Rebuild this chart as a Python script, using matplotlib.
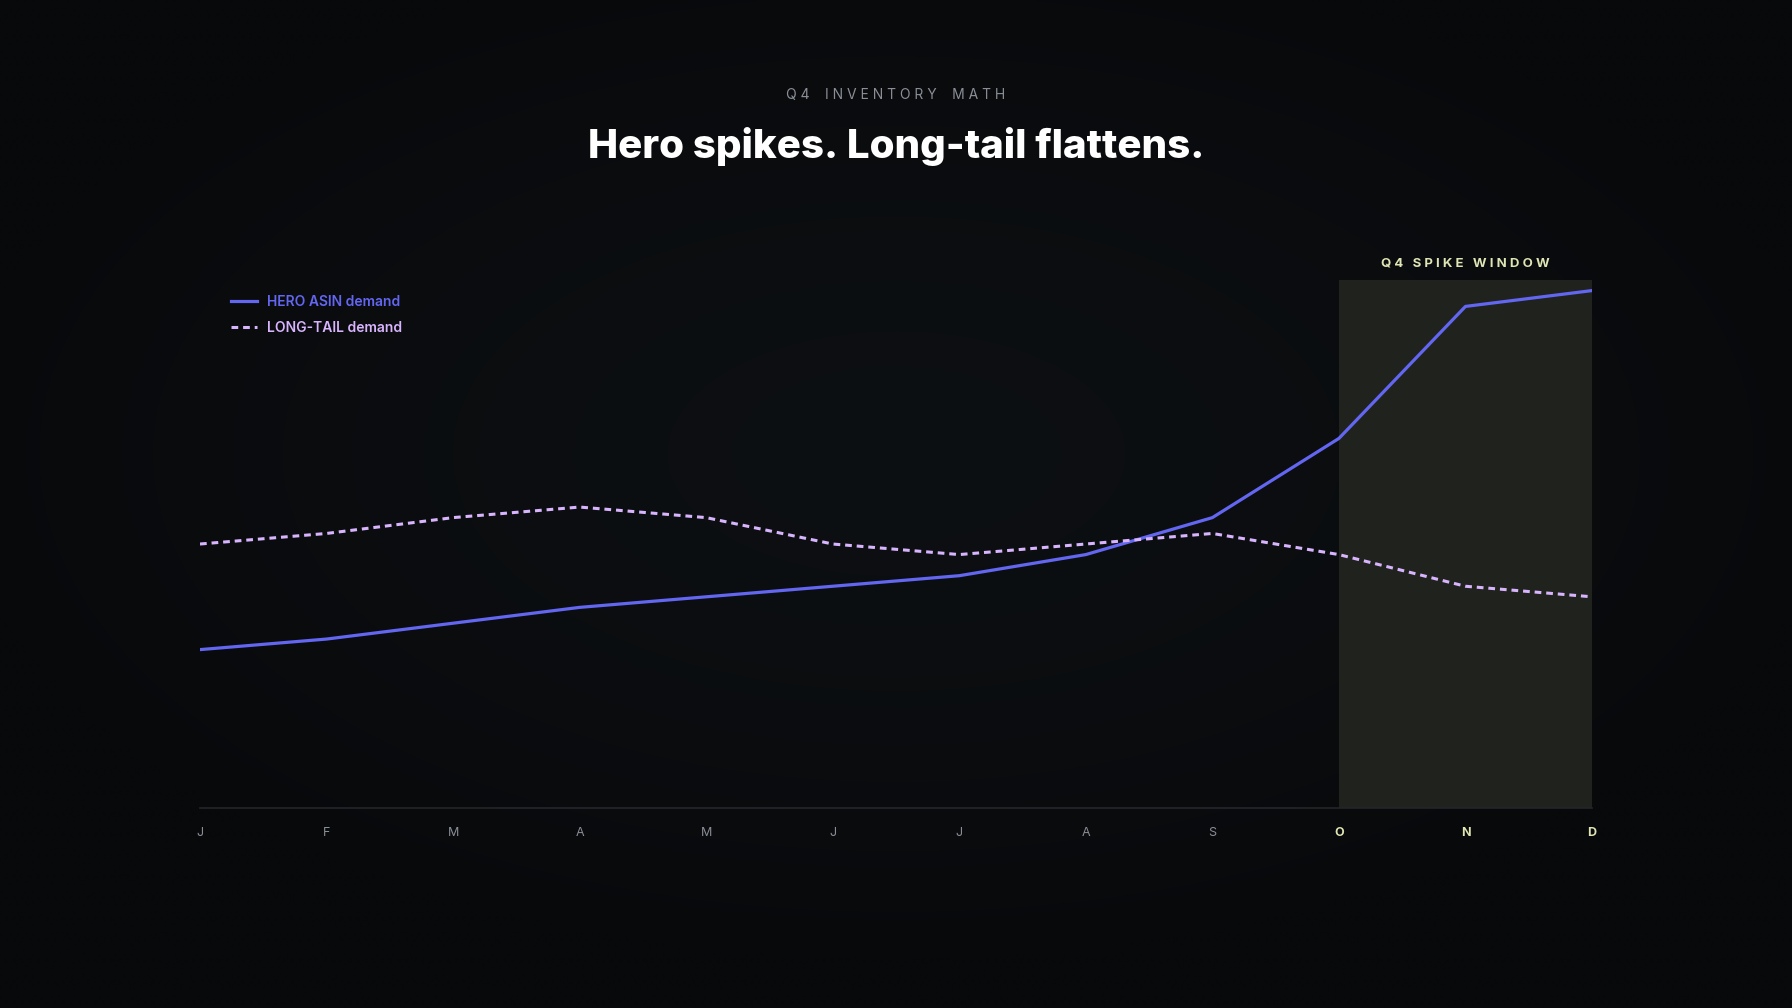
import numpy as np
import matplotlib.pyplot as plt

# Monthly demand index
months = ['J', 'F', 'M', 'A', 'M', 'J', 'J', 'A', 'S', 'O', 'N', 'D']
hero_demand = [30, 32, 35, 38, 40, 42, 44, 48, 55, 70, 95, 98]
tail_demand = [50, 52, 55, 57, 55, 50, 48, 50, 52, 48, 42, 40]
q4_start, q4_end = 9, 11

bg = '#0b0d10'
hero_col = '#6366f1'
tail_col = '#d8b4fe'
accent = '#dfe5b4'
muted = '#8a8e97'

plt.rcParams['font.family'] = ['Inter', 'DejaVu Sans']

fig = plt.figure(figsize=(17.92, 10.08), dpi=100, facecolor=bg)

# Subtle radial vignette behind everything.
bg_ax = fig.add_axes([0, 0, 1, 1], zorder=0)
yy, xx = np.mgrid[-1:1:300j, -1:1:520j]
r = np.sqrt((xx / 1.05) ** 2 + ((yy + 0.1) / 1.0) ** 2)
glow = np.clip(1 - r, 0, 1) ** 0.8
base = np.array([8, 9, 11]) / 255
top = np.array([13, 16, 19]) / 255
img = base + glow[..., None] * (top - base)
bg_ax.imshow(img, aspect='auto', extent=[0, 1, 0, 1], interpolation='bilinear')
bg_ax.axis('off')

ax = fig.add_axes([0.1116, 0.1984, 0.7768, 0.5238], zorder=1)
ax.set_facecolor('none')

x = np.arange(len(months))

# Q4 spike window band.
ax.axvspan(q4_start, q4_end, color='#1f221d', zorder=1, lw=0)
ax.text((q4_start + q4_end) / 2, 103.2, 'Q 4   S P I K E   W I N D O W', ha='center',
        va='center', color=accent, fontsize=9.5, fontweight='bold')

ax.plot(x, hero_demand, color=hero_col, lw=2.3, zorder=3, solid_joinstyle='round',
        label='HERO ASIN demand')
ax.plot(x, tail_demand, color=tail_col, lw=2.2, zorder=3, dashes=(2.2, 1.6),
        label='LONG-TAIL demand')

ax.set_xlim(0, 11)
ax.set_ylim(0, 100)
for s in ['top', 'right', 'left']:
    ax.spines[s].set_visible(False)
ax.spines['bottom'].set_color('#23262a')
ax.spines['bottom'].set_linewidth(1.2)
ax.set_yticks([])
ax.set_xticks(x)
ax.set_xticklabels(months)
ax.tick_params(axis='x', length=0, pad=14, labelsize=9, labelcolor=muted)
for i, lab in enumerate(ax.get_xticklabels()):
    if i >= q4_start:
        lab.set_color(accent)
        lab.set_fontweight('bold')

leg = ax.legend(loc='upper left', bbox_to_anchor=(0.013, 0.995), frameon=False,
                handlelength=1.9, handletextpad=0.7, labelspacing=0.85,
                prop={'size': 10, 'weight': 'semibold'})
for txt, col in zip(leg.get_texts(), [hero_col, tail_col]):
    txt.set_color(col)

fig.text(0.5, 1 - 95 / 1008, 'Q 4    I N V E N T O R Y    M A T H', ha='center', va='center',
         color=muted, fontsize=10, zorder=2)
fig.text(0.5, 1 - 146 / 1008, 'Hero spikes. Long-tail flattens.', ha='center', va='center',
         color='white', fontsize=29, fontweight='heavy', zorder=2)

fig.savefig('out.png', dpi=100, facecolor=bg)
